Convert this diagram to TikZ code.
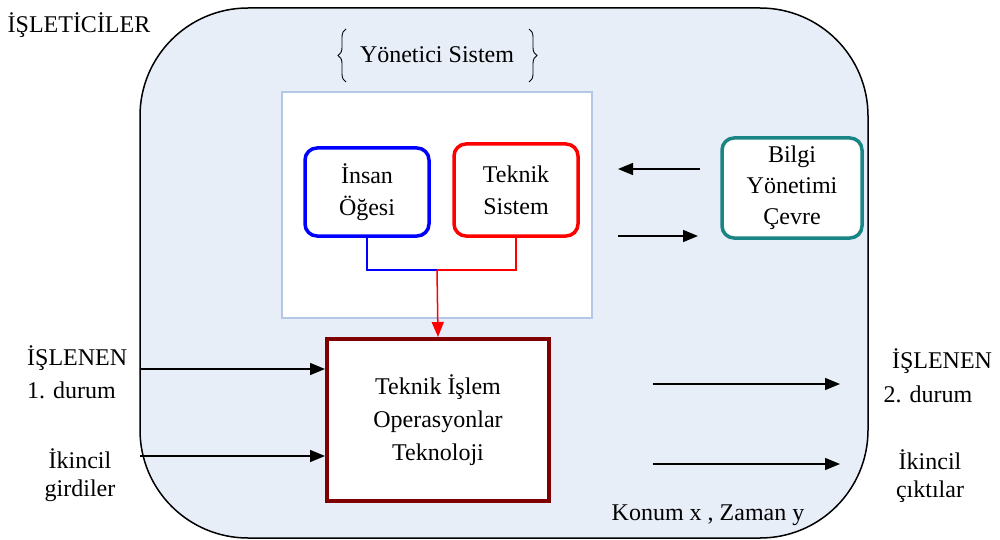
\documentclass[tikz,border=0pt]{standalone}
\usepackage{fontspec}
\setmainfont{Liberation Serif}
\usetikzlibrary{arrows.meta,decorations.pathreplacing}
\definecolor{envfill}{HTML}{E8EEF8}
\definecolor{panelline}{HTML}{B4C7E7}
\definecolor{humanblue}{HTML}{0000FF}
\definecolor{techred}{HTML}{FF0000}
\definecolor{procred}{HTML}{800000}
\definecolor{infoteal}{HTML}{1A8585}
\tikzset{
  lbl/.style={font=\fontsize{24}{32}\selectfont, inner sep=0pt, align=center},
  unit/.style={draw, line width=3.5pt, rounded corners=12pt, fill=white,
    font=\fontsize{24}{32}\selectfont, align=center, inner sep=0pt},
  flow/.style={line width=1.5pt, -{Triangle[length=15pt,width=12pt]}},
  link/.style={line width=1.5pt},
  curly/.style={line width=0.9pt, decorate, decoration={brace, amplitude=8pt, aspect=0.5}}
}
\begin{document}
\begin{tikzpicture}[x=1pt,y=-1pt]
\useasboundingbox (0,0) rectangle (1000,540);
% operating environment
\node[draw=black, line width=1.5pt, fill=envfill, rounded corners=108pt,
  minimum width=728pt, minimum height=530pt, inner sep=0pt] (env) at (504,273) {};
\node[lbl] (operators) at (79,25) {İŞLETİCİLER};
% management system title with braces
\node[lbl] (mgmt) at (437,55) {Yönetici Sistem};
\coordinate (lbrTop) at (346,29);
\coordinate (lbrBot) at (346,82);
\coordinate (rbrTop) at (529,29);
\coordinate (rbrBot) at (529,82);
\draw[curly] (lbrBot) -- (lbrTop);
\draw[curly] (rbrTop) -- (rbrBot);
% management panel
\node[draw=panelline, line width=2pt, fill=white, minimum width=310pt,
  minimum height=226pt, inner sep=0pt] (panel) at (437,205) {};
\node[unit, draw=humanblue, minimum width=124pt, minimum height=88pt] (human) at (367,192) {İnsan\\Öğesi};
\node[unit, draw=techred, minimum width=124pt, minimum height=92pt] (tech) at (516,190) {Teknik\\Sistem};
% process
\node[draw=procred, line width=4pt, fill=white, minimum width=222pt,
  minimum height=162pt, inner sep=0pt, font=\fontsize{24}{33}\selectfont,
  align=center] (proc) at (438,420) {Teknik İşlem\\Operasyonlar\\Teknoloji};
% information environment
\node[unit, draw=infoteal, minimum width=140pt, minimum height=100pt,
  font=\fontsize{24}{31}\selectfont] (info) at (792,188) {Bilgi\\Yönetimi\\Çevre};
% links from the units to the process
\coordinate (join) at (437,270);
\draw[link, humanblue] (human.south) |- (join);
\draw[link, techred] (tech.south) |- (join);
\draw[line width=1.5pt, techred, -{Triangle[length=15pt,width=12pt]}] (join) -- (proc.north);
% information exchange
\coordinate (infoL1) at (700,169);
\coordinate (infoR1) at (618,169);
\coordinate (infoL2) at (618,236);
\coordinate (infoR2) at (698,236);
\draw[flow] (infoL1) -- (infoR1);
\draw[flow] (infoL2) -- (infoR2);
% inputs
\node[lbl, anchor=west] (in1a) at (27,358) {İŞLENEN};
\node[lbl, anchor=west] (in1b) at (27,390) {1. durum};
\node[lbl] (in2a) at (80,459) {İkincil};
\node[lbl] (in2b) at (80,491) {girdiler};
\coordinate (inA) at (140,369);
\coordinate (inB) at (140,456);
\draw[flow] (inA) -- (inA -| proc.west);
\draw[flow] (inB) -- (inB -| proc.west);
% outputs
\coordinate (outA) at (653,384);
\coordinate (outAe) at (840,384);
\coordinate (outB) at (653,464);
\coordinate (outBe) at (840,464);
\draw[flow] (outA) -- (outAe);
\draw[flow] (outB) -- (outBe);
\node[lbl] (out1a) at (942,361) {İŞLENEN};
\node[lbl] (out1b) at (928,394) {2. durum};
\node[lbl] (out2a) at (930,460) {İkincil};
\node[lbl] (out2b) at (930,492) {çıktılar};
\node[lbl] (where) at (708,515) {Konum x , Zaman y};
\end{tikzpicture}
\end{document}
